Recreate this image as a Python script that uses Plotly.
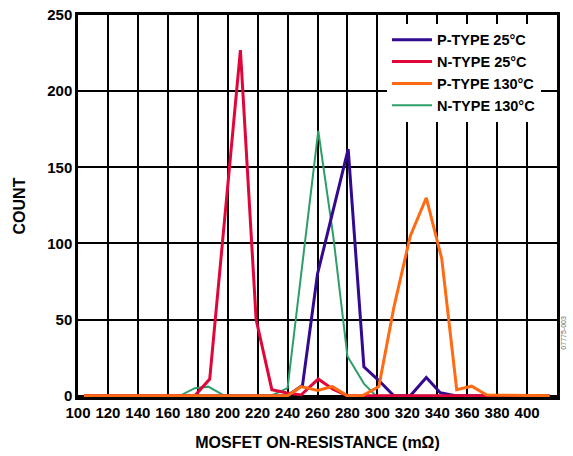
import plotly.graph_objects as go

# ---- data ----
p25_x = [104, 240, 250, 260, 280.5, 291, 301, 311, 322, 332.7, 342, 352, 415]
p25_y = [0, 0, 7, 80, 162, 19, 10, 0, 0, 12, 2, 0, 0]

n25_x = [104, 178, 188, 208.5, 219, 229.5, 239, 249, 260.5, 270, 280, 415]
n25_y = [0, 0, 11, 227, 50, 4, 2, 0.5, 11, 4.5, 0, 0]

p130_x = [104, 240, 249, 260, 270, 280, 290, 301, 311, 322, 332.7, 343, 353, 363, 373, 415]
p130_y = [0, 0, 6, 3.5, 6, 0, 0, 6, 58, 105, 130, 90, 4, 6.3, 0.5, 0]

n130_x = [104, 168, 178, 187, 198, 229, 240, 260.5, 270.5, 280, 291, 299, 415]
n130_y = [0, 0, 5, 6, 0, 0, 5, 174, 105, 26, 8, 0, 0]

x_ticks = list(range(100, 401, 20))
y_ticks = [0, 50, 100, 150, 200, 250]

FONT = "Liberation Sans, Arial, sans-serif"

fig = go.Figure()
fig.add_trace(go.Scatter(x=n130_x, y=n130_y, mode="lines", name="N-TYPE 130°C",
                         line=dict(color="#2E9E68", width=2), legendrank=4))
fig.add_trace(go.Scatter(x=p25_x, y=p25_y, mode="lines", name="P-TYPE 25°C",
                         line=dict(color="#330A8F", width=3), legendrank=1))
fig.add_trace(go.Scatter(x=n25_x, y=n25_y, mode="lines", name="N-TYPE 25°C",
                         line=dict(color="#E0063A", width=3), legendrank=2))
fig.add_trace(go.Scatter(x=p130_x, y=p130_y, mode="lines", name="P-TYPE 130°C",
                         line=dict(color="#FF6A12", width=3), legendrank=3))

fig.update_layout(
    width=573, height=456,
    margin=dict(l=78, r=16, t=15, b=59, autoexpand=False),
    paper_bgcolor="white", plot_bgcolor="white",
    font=dict(family=FONT, size=14, color="black", weight="bold"),
    showlegend=True,
    legend=dict(x=0.645, y=0.977, xanchor="left", yanchor="top",
                bgcolor="white", borderwidth=0,
                font=dict(family=FONT, size=14.5, color="black", weight="bold"),
                tracegroupgap=0, itemwidth=40),
    xaxis=dict(range=[100, 420], tickvals=x_ticks, ticktext=[str(v) for v in x_ticks],
               showgrid=True, gridcolor="black", gridwidth=1.8,
               showline=True, linecolor="black", linewidth=2.5, mirror=True,
               ticks="", zeroline=False, layer="below traces", automargin=False,
               ticklabeloverflow="allow",
               tickfont=dict(family=FONT, size=15, weight="bold"),
               title=dict(text="MOSFET ON-RESISTANCE (mΩ)", standoff=18,
                          font=dict(family=FONT, size=16, weight="bold"))),
    yaxis=dict(range=[-0.8, 250], tickvals=y_ticks, ticktext=[str(v) for v in y_ticks],
               showgrid=True, gridcolor="black", gridwidth=1.8,
               showline=True, linecolor="black", linewidth=2.5, mirror=True,
               ticks="", zeroline=False, layer="below traces", automargin=False,
               ticklabeloverflow="allow",
               tickfont=dict(family=FONT, size=15, weight="bold"),
               title=dict(text="COUNT", standoff=18,
                          font=dict(family=FONT, size=16, weight="bold"))),
)

fig.add_annotation(text="07775-003", xref="paper", yref="paper",
                   x=1.025, y=0.12, showarrow=False, textangle=-90,
                   font=dict(family=FONT, size=7, color="#666666", weight="normal"))

fig.write_html("out.html", config={"displayModeBar": False},
               post_script="document.body.style.margin='0';")
